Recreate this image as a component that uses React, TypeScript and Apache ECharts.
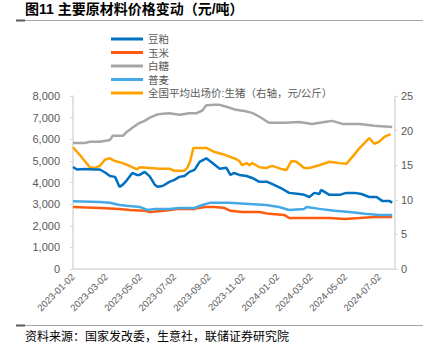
import React, { useEffect, useRef } from "react";
import * as echarts from "echarts";

const seriesNames = ["豆粕", "玉米", "白糖", "普麦", "全国平均出场价:生猪（右轴，元/公斤）"];

const soymeal: [string, number][] = [
  ["2023-01-02", 4720], ["2023-01-09", 4600], ["2023-01-23", 4620], ["2023-02-10", 4600], ["2023-02-19", 4600],
  ["2023-03-01", 4450], ["2023-03-09", 4300], ["2023-03-18", 4260], ["2023-03-26", 3800], ["2023-04-01", 3900],
  ["2023-04-08", 4100], ["2023-04-18", 4440], ["2023-04-26", 4350], ["2023-05-01", 4350], ["2023-05-10", 4490],
  ["2023-05-19", 4280], ["2023-05-28", 3900], ["2023-06-02", 3800], ["2023-06-11", 3840], ["2023-06-23", 4030],
  ["2023-07-02", 4120], ["2023-07-11", 4260], ["2023-07-20", 4300], ["2023-07-29", 4490], ["2023-08-07", 4580],
  ["2023-08-16", 4950], ["2023-08-28", 5120], ["2023-09-08", 4900], ["2023-09-21", 4640], ["2023-10-03", 4680],
  ["2023-10-10", 4350], ["2023-10-17", 4440], ["2023-10-26", 4350], ["2023-11-08", 4300], ["2023-11-18", 4210],
  ["2023-12-01", 4030], ["2023-12-15", 4030], ["2023-12-27", 3890], ["2024-01-11", 3700], ["2024-01-23", 3520],
  ["2024-02-10", 3470], ["2024-02-19", 3430], ["2024-02-28", 3330], ["2024-03-08", 3520], ["2024-03-17", 3470],
  ["2024-03-20", 3660], ["2024-04-04", 3430], ["2024-04-22", 3430], ["2024-05-04", 3520], ["2024-05-19", 3520],
  ["2024-05-31", 3470], ["2024-06-14", 3330], ["2024-06-27", 3330], ["2024-07-07", 3150], ["2024-07-20", 3150],
  ["2024-07-25", 3060],
];

const corn: [string, number][] = [
  ["2023-01-02", 2870], ["2023-02-19", 2820], ["2023-03-26", 2780], ["2023-04-13", 2730], ["2023-05-10", 2690],
  ["2023-05-19", 2640], ["2023-06-14", 2690], ["2023-07-11", 2780], ["2023-08-07", 2780], ["2023-08-25", 2870],
  ["2023-09-12", 2870], ["2023-09-30", 2820], ["2023-10-10", 2690], ["2023-10-31", 2640], ["2023-12-01", 2640],
  ["2023-12-18", 2550], ["2024-01-14", 2500], ["2024-01-23", 2360], ["2024-02-28", 2360], ["2024-04-04", 2360],
  ["2024-05-01", 2310], ["2024-05-28", 2360], ["2024-06-23", 2410], ["2024-07-25", 2410],
];

const sugar: [string, number][] = [
  ["2023-01-02", 5830], ["2023-01-23", 5830], ["2023-02-01", 5880], ["2023-02-19", 5880], ["2023-03-09", 5970],
  ["2023-03-14", 6160], ["2023-04-01", 6160], ["2023-04-08", 6340], ["2023-04-18", 6530], ["2023-05-01", 6760],
  ["2023-05-10", 6850], ["2023-05-19", 7000], ["2023-06-02", 7150], ["2023-06-11", 7180], ["2023-06-23", 7200],
  ["2023-07-11", 7130], ["2023-07-29", 7200], ["2023-08-10", 7200], ["2023-08-21", 7330], ["2023-08-28", 7570],
  ["2023-09-12", 7590], ["2023-09-21", 7590], ["2023-10-03", 7500], ["2023-10-20", 7360], ["2023-11-04", 7310],
  ["2023-11-18", 7220], ["2023-12-01", 7040], ["2023-12-18", 6760], ["2024-01-14", 6760], ["2024-02-10", 6800],
  ["2024-03-04", 6710], ["2024-03-26", 6800], ["2024-04-09", 6850], ["2024-04-27", 6710], ["2024-05-28", 6710],
  ["2024-06-23", 6620], ["2024-07-25", 6570],
];

const wheat: [string, number][] = [
  ["2023-01-02", 3130], ["2023-02-19", 3100], ["2023-03-09", 3060], ["2023-03-26", 2960], ["2023-04-08", 2920],
  ["2023-05-01", 2870], ["2023-05-15", 2730], ["2023-05-28", 2780], ["2023-06-23", 2780], ["2023-07-11", 2820],
  ["2023-08-07", 2820], ["2023-08-21", 2960], ["2023-09-03", 3060], ["2023-10-08", 3060], ["2023-11-13", 3010],
  ["2023-12-13", 2960], ["2024-01-05", 2870], ["2024-01-23", 2730], ["2024-02-19", 2780], ["2024-02-23", 2870],
  ["2024-03-17", 2780], ["2024-04-13", 2690], ["2024-05-10", 2640], ["2024-06-06", 2550], ["2024-07-02", 2500],
  ["2024-07-25", 2500],
];

const hog: [string, number][] = [
  ["2023-01-02", 17.6], ["2023-01-14", 16.5], ["2023-01-23", 15.6], ["2023-02-01", 14.7], ["2023-02-10", 14.6],
  ["2023-02-19", 14.9], ["2023-02-28", 15.8], ["2023-03-09", 16.0], ["2023-03-18", 15.6], ["2023-04-01", 15.3],
  ["2023-04-13", 14.9], ["2023-04-26", 14.4], ["2023-05-01", 14.7], ["2023-05-19", 14.6], ["2023-06-06", 14.5],
  ["2023-06-23", 14.5], ["2023-07-02", 14.2], ["2023-07-20", 14.2], ["2023-07-25", 14.6], ["2023-07-30", 15.5],
  ["2023-08-05", 17.5], ["2023-08-28", 17.5], ["2023-09-12", 16.9], ["2023-09-30", 16.5], ["2023-10-20", 15.9],
  ["2023-10-26", 15.6], ["2023-10-31", 15.0], ["2023-11-08", 15.3], ["2023-11-13", 15.0], ["2023-11-18", 15.3],
  ["2023-12-01", 14.7], ["2023-12-13", 14.6], ["2023-12-24", 14.9], ["2024-01-11", 14.4], ["2024-01-18", 14.3],
  ["2024-01-27", 15.6], ["2024-02-05", 15.5], ["2024-02-19", 14.6], ["2024-02-28", 14.6], ["2024-03-17", 15.0],
  ["2024-04-04", 15.5], ["2024-04-22", 15.3], ["2024-05-04", 15.2], ["2024-05-15", 16.2], ["2024-05-28", 17.5],
  ["2024-06-14", 18.9], ["2024-06-23", 18.1], ["2024-07-02", 18.4], ["2024-07-11", 19.1], ["2024-07-22", 19.5],
];

const xTickDates = [
  "2023-01-02", "2023-03-02", "2023-05-02", "2023-07-02", "2023-09-02",
  "2023-11-02", "2024-01-02", "2024-03-02", "2024-05-02", "2024-07-02",
];
const xMin = "2023-01-02";
const xMax = "2024-07-30";

const colors = ["#0070C0", "#FF5B0F", "#A6A6A6", "#45A9E6", "#FFA200"];

const DAY = 86400000;
const dayNum = (s: string) => {
  const [y, m, d] = s.split("-").map(Number);
  return Math.round(Date.UTC(y, m - 1, d) / DAY);
};
const pad = (n: number) => (n < 10 ? "0" + n : "" + n);
const fmtDay = (v: number) => {
  const d = new Date(Math.round(v) * DAY);
  return d.getUTCFullYear() + "-" + pad(d.getUTCMonth() + 1) + "-" + pad(d.getUTCDate());
};
const toPts = (arr: [string, number][]) => arr.map(([d, v]) => [dayNum(d), v]);

const mixed = "'Liberation Sans', 'Noto Sans CJK SC', sans-serif";
const latin = "'Liberation Sans', Arial, sans-serif";

export default function App() {
  const ref = useRef<HTMLDivElement>(null);
  useEffect(() => {
    if (!ref.current) return;
    const chart = echarts.init(ref.current, undefined, { renderer: "svg" });
    const data = [soymeal, corn, sugar, wheat, hog];
    const tickVals = xTickDates.map(dayNum);
    chart.setOption({
      animation: false,
      backgroundColor: "#ffffff",
      color: colors,
      grid: { left: 73, right: 41, top: 96, bottom: 88, containLabel: false },
      legend: {
        orient: "vertical",
        left: 106,
        top: 28,
        itemWidth: 32,
        itemHeight: 3,
        itemGap: 1.5,
        icon: "rect",
        data: seriesNames,
        textStyle: { fontFamily: mixed, fontSize: 10.5, color: "#595959", lineHeight: 12 },
      },
      xAxis: {
        type: "value",
        min: dayNum(xMin),
        max: dayNum(xMax),
        axisLine: { lineStyle: { color: "#D9D9D9", width: 1.5 } },
        axisTick: { show: false, customValues: tickVals },
        splitLine: { show: false },
        axisLabel: {
          customValues: tickVals,
          rotate: 45,
          fontFamily: latin,
          fontSize: 9.5,
          color: "#595959",
          margin: 6,
          formatter: (v: number) => fmtDay(v),
        },
      },
      yAxis: [
        {
          type: "value",
          min: 0,
          max: 8000,
          interval: 1000,
          axisLine: { show: true, lineStyle: { color: "#D9D9D9", width: 1.5 } },
          axisTick: { show: true, length: 3, lineStyle: { color: "#D9D9D9" } },
          splitLine: { show: false },
          axisLabel: {
            fontFamily: latin,
            fontSize: 11,
            color: "#595959",
            margin: 13,
            formatter: (v: number) => v.toLocaleString("en-US"),
          },
        },
        {
          type: "value",
          min: 0,
          max: 25,
          interval: 5,
          position: "right",
          axisLine: { show: true, lineStyle: { color: "#D9D9D9", width: 1.5 } },
          axisTick: { show: true, length: 3, lineStyle: { color: "#D9D9D9" } },
          splitLine: { show: false },
          axisLabel: { fontFamily: latin, fontSize: 11, color: "#595959", margin: 6 },
        },
      ],
      series: data.map((d, i) => ({
        name: seriesNames[i],
        type: "line",
        yAxisIndex: i === 4 ? 1 : 0,
        data: toPts(d),
        showSymbol: false,
        symbol: "none",
        lineStyle: { width: 2.5, color: colors[i] },
        itemStyle: { color: colors[i] },
        z: i === 0 ? 5 : 3,
      })),
      graphic: [
        {
          type: "text",
          left: 25,
          top: 2,
          style: { text: "图11 主要原材料价格变动（元/吨）", font: "bold 14px " + mixed, fill: "#000000" },
        },
        { type: "rect", shape: { x: 16, y: 20, width: 407, height: 1 }, style: { fill: "#A6A6A6" } },
        { type: "rect", shape: { x: 16, y: 19.5, width: 9, height: 2 }, style: { fill: "#595959" } },
        { type: "rect", shape: { x: 16, y: 325, width: 407, height: 1 }, style: { fill: "#A6A6A6" } },
        { type: "rect", shape: { x: 16, y: 324.5, width: 9, height: 2 }, style: { fill: "#595959" } },
        {
          type: "text",
          left: 25,
          top: 331,
          style: { text: "资料来源：国家发改委，生意社，联储证券研究院", font: "12px " + mixed, fill: "#000000" },
        },
      ],
    });
    return () => chart.dispose();
  }, []);
  return <div ref={ref} style={{ position: "fixed", left: 0, top: 0, width: 436, height: 357 }} />;
}
